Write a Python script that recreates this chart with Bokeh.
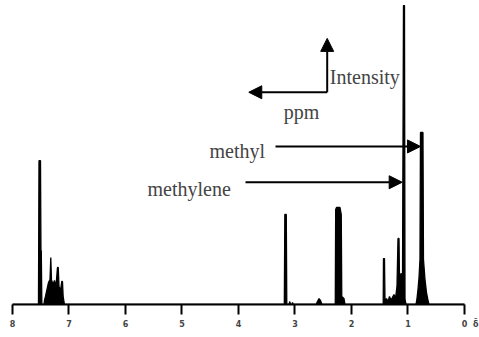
from bokeh.plotting import figure
from bokeh.models import Range1d, Label, Arrow, NormalHead, FixedTicker
from bokeh.embed import file_html
from bokeh.resources import INLINE

# ---- data: 1H NMR trace (ppm, relative intensity) ----
trace_ppm = [8.0, 7.54, 7.531, 7.504, 7.496, 7.49, 7.48, 7.443, 7.434, 7.416, 7.389, 7.363,
             7.336, 7.322, 7.31, 7.283, 7.257, 7.23, 7.204, 7.19, 7.177, 7.15, 7.127, 7.115,
             7.103, 7.08,
             3.189, 3.18, 3.154, 3.145, 3.106, 3.092, 3.08, 3.053, 3.044, 3.032,
             2.628, 2.602, 2.575, 2.549, 2.522,
             2.287, 2.28, 2.265, 2.204, 2.181, 2.172, 2.133, 2.115,
             1.439, 1.434, 1.416, 1.407, 1.381, 1.354, 1.327, 1.301, 1.274, 1.248, 1.221,
             1.195, 1.177, 1.159, 1.15, 1.124, 1.097, 1.08, 1.062, 1.053, 1.035,
             0.858, 0.841, 0.823, 0.805, 0.788, 0.779, 0.735, 0.726, 0.699, 0.673, 0.646,
             0.628, 0.0]
trace_int = [0, 0, 48.6, 48.6, 18.2, 18.2, 0, 0, 1.4, 2.7, 5.1, 7.4,
             8.4, 15.9, 8.4, 6.8, 8.1, 6.1, 12.5, 12.5, 6.1, 4.7, 7.8, 7.8,
             2.7, 0,
             0, 30.4, 30.4, 0, 0, 1.0, 0, 0, 0.7, 0,
             0, 1.0, 2.0, 1.4, 0,
             0, 32.1, 32.8, 32.8, 30.4, 2.7, 2.0, 0,
             0, 15.5, 15.5, 1.0, 2.0, 1.0, 2.7, 1.4, 2.4, 3.4, 2.0,
             6.1, 22.3, 22.3, 8.1, 10.5, 9.5, 101, 101, 1.7, 0,
             0, 2.0, 5.1, 9.1, 15.2, 58.1, 58.1, 15.2, 8.4, 4.1, 1.4,
             0, 0]

tick_vals = [0, 1, 2, 3, 4, 5, 6, 7, 8]
# the "0" label carries the axis symbol (delta with bar) to its right
tick_labels = ["\u2007\u20070\u2007\u03b4\u0304", "1", "2", "3", "4", "5", "6", "7", "8"]

p = figure(frame_width=479, frame_height=304,
           x_range=Range1d(8.212, -0.2655), y_range=Range1d(0, 102.7),
           output_backend="svg", toolbar_location=None, y_axis_location=None,
           min_border_left=0, min_border_right=0, min_border_top=0, min_border_bottom=33)
p.background_fill_color = "white"
p.border_fill_color = "white"
p.outline_line_color = None
p.grid.visible = False

p.patch(trace_ppm, trace_int, fill_color="black", line_color="black", line_width=1.3)

ax = p.xaxis[0]
ax.ticker = FixedTicker(ticks=tick_vals)
ax.major_label_overrides = {v: l for v, l in zip(tick_vals, tick_labels)}
ax.bounds = (0, 8)
ax.axis_line_width = 2
ax.axis_line_color = "black"
ax.major_tick_line_width = 2
ax.major_tick_out = 10
ax.major_tick_in = 0
ax.minor_tick_line_color = None
ax.major_label_text_font = "DejaVu Sans"
ax.major_label_text_font_style = "bold"
ax.major_label_text_font_size = "8px"
ax.major_label_standoff = 5

serif = "Liberation Serif"
fs = "20px"

# axis legend arrows
head = dict(fill_color="black", line_color="black", size=13)
p.add_layout(Arrow(end=NormalHead(**head), x_start=2.43, y_start=71.7, x_end=2.43, y_end=89.9,
                   line_width=2, line_color="black"))
p.add_layout(Arrow(end=NormalHead(**head), x_start=2.43, y_start=71.7, x_end=3.818, y_end=71.7,
                   line_width=2, line_color="black"))
p.add_layout(Label(x=2.384, y=77.0, text="Intensity", text_font=serif, text_font_size=fs,
                   text_baseline="alphabetic", text_align="left"))
p.add_layout(Label(x=3.198, y=65.2, text="ppm", text_font=serif, text_font_size=fs,
                   text_baseline="alphabetic", text_align="left"))

# peak labels
p.add_layout(Label(x=4.513, y=52.0, text="methyl", text_font=serif, text_font_size=fs,
                   text_baseline="alphabetic", text_align="left"))
p.add_layout(Arrow(end=NormalHead(**head), x_start=3.345, y_start=53.4, x_end=0.779, y_end=53.4,
                   line_width=2, line_color="black"))
p.add_layout(Label(x=5.611, y=38.9, text="methylene", text_font=serif, text_font_size=fs,
                   text_baseline="alphabetic", text_align="left"))
p.add_layout(Arrow(end=NormalHead(**head), x_start=3.876, y_start=41.3, x_end=1.103, y_end=41.3,
                   line_width=2, line_color="black"))

open("out.html", "w").write(file_html(p, INLINE))
